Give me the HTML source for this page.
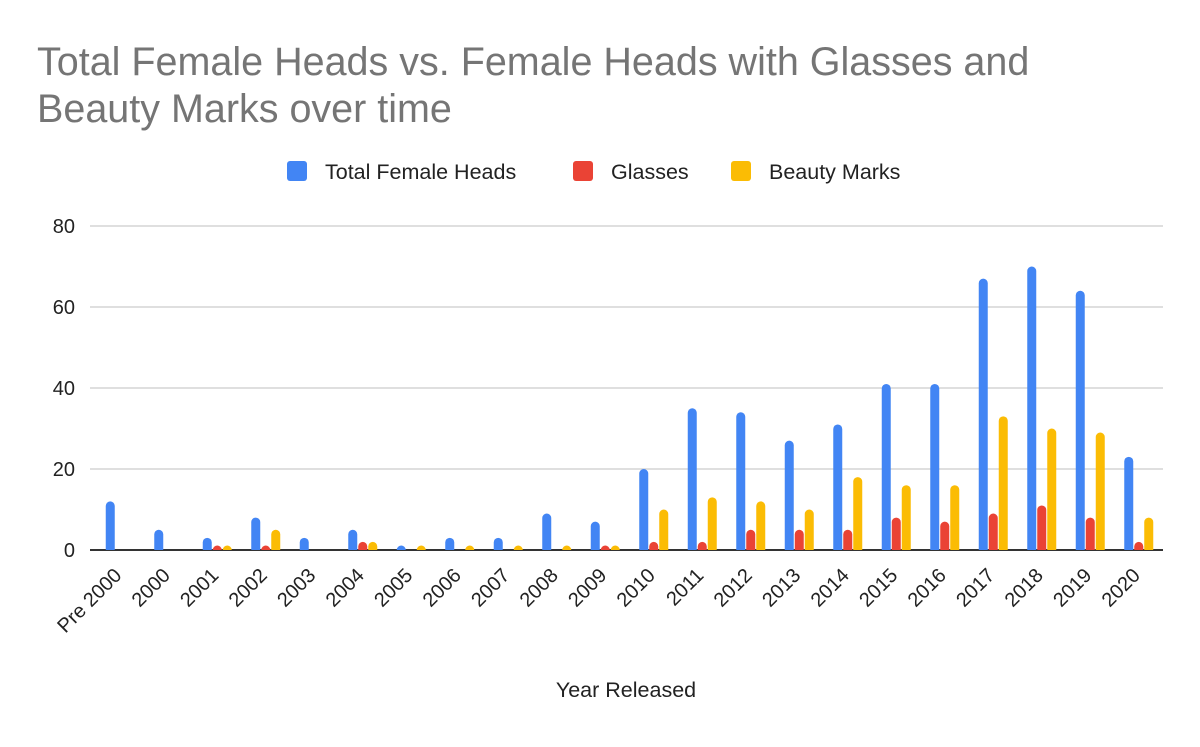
<!DOCTYPE html>
<html><head><meta charset="utf-8"><style>
body{margin:0;background:#fff;font-family:"Liberation Sans",Arial,sans-serif}
</style></head><body>
<svg width="1200" height="742" xmlns="http://www.w3.org/2000/svg">
<rect width="1200" height="742" fill="#fff"/>
<text x="37" y="75" font-size="39.5" fill="#757575">Total Female Heads vs. Female Heads with Glasses and</text>
<text x="37" y="122" font-size="39.5" fill="#757575">Beauty Marks over time</text>
<g font-size="21.5" fill="#222">
<g><rect x="287" y="161" width="20" height="20" rx="3" fill="#4285f4"/><text x="325" y="179">Total Female Heads</text></g>
<g><rect x="573" y="161" width="20" height="20" rx="3" fill="#ea4335"/><text x="611" y="179">Glasses</text></g>
<g><rect x="731" y="161" width="20" height="20" rx="3" fill="#fbbc04"/><text x="769" y="179">Beauty Marks</text></g>
</g>
<g id="grid"></g>
<g id="bars"></g>
<g id="xlabels"></g>
<text x="626" y="697" font-size="21.5" text-anchor="middle" fill="#222">Year Released</text>
</svg>
<script>
const categories=["Pre 2000","2000","2001","2002","2003","2004","2005","2006","2007","2008","2009","2010","2011","2012","2013","2014","2015","2016","2017","2018","2019","2020"];
const totalHeads=[12,5,3,8,3,5,1,3,3,9,7,20,35,34,27,31,41,41,67,70,64,23];
const glasses=[0,0,1,1,0,2,0,0,0,0,1,2,2,5,5,5,8,7,9,11,8,2];
const beautyMarks=[0,0,1,5,0,2,1,1,1,1,1,10,13,12,10,18,16,16,33,30,29,8];
const yTicks=[0,20,40,60,80];
const NS="http://www.w3.org/2000/svg";
const x0=96,x1=1163,y0=550,yTop=226,yMax=80;
const bw=(x1-x0)/categories.length;
const yS=v=>y0-(v/yMax)*(y0-yTop);
const xC=i=>x0+bw*(i+0.5);
const grid=document.getElementById('grid');
yTicks.forEach(t=>{
  const l=document.createElementNS(NS,'line');
  l.setAttribute('x1',90);l.setAttribute('x2',x1);l.setAttribute('y1',yS(t));l.setAttribute('y2',yS(t));
  l.setAttribute('stroke',t===0?'#333':'#ccc');l.setAttribute('stroke-width',t===0?2:1.2);
  
  
  grid.appendChild(l);
  const tx=document.createElementNS(NS,'text');
  tx.setAttribute('x',75);tx.setAttribute('y',yS(t)+7);tx.setAttribute('text-anchor','end');
  tx.setAttribute('font-size','20');tx.setAttribute('fill','#222');tx.textContent=t;
  
  
  grid.appendChild(tx);
});
const bars=document.getElementById('bars');
const series=[[totalHeads,'#4285f4',-10,'bar-total'],[glasses,'#ea4335',0,'bar-glasses'],[beautyMarks,'#fbbc04',10,'bar-beauty']];
categories.forEach((c,i)=>{
  series.forEach(([arr,col,off,nm])=>{
    const v=arr[i]; if(v<=0)return;
    const h=y0-yS(v), w=9, x=xC(i)+off-w/2;
    const p=document.createElementNS(NS,'path');
    const r=Math.min(4.5,h);
    p.setAttribute('d',`M${x},${y0}V${y0-h+r}A${r},${r} 0 0 1 ${x+w},${y0-h+r}V${y0}Z`);
    p.setAttribute('fill',col);
    
    
    bars.appendChild(p);
  });
  const t=document.createElementNS(NS,'text');
  const cx=xC(i)-6, cy=568;
  t.setAttribute('x',cx);t.setAttribute('y',cy);t.setAttribute('text-anchor','end');
  t.setAttribute('font-size','20');t.setAttribute('fill','#222');
  t.setAttribute('transform',`rotate(-45 ${cx} ${cy})`);
  t.setAttribute('dy','12');
  t.textContent=c;
  
  
  document.getElementById('xlabels').appendChild(t);
});
</script>
</body></html>
